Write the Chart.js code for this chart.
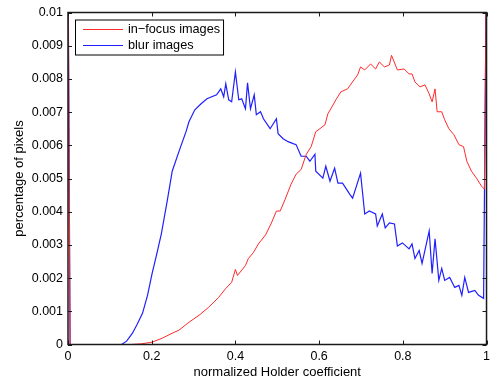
<!DOCTYPE html>
<html>
<head>
  <meta charset="UTF-8">
  <title>Holder coefficient histogram</title>
  <style>
    body { margin: 0; background: #fff; }
    #wrap { width: 495px; height: 385px; }
  </style>
  <script src="https://cdn.jsdelivr.net/npm/chart.js"></script>
</head>
<body>
  <div id="wrap"><canvas id="holderChart"></canvas></div>

  <script>
  // values (x = normalized Holder coefficient, y = fraction of pixels)
  const focusX = [0, 0.005, 0.150, 0.175, 0.201, 0.225, 0.254, 0.265, 0.289, 0.313, 0.336, 0.360, 0.377, 0.391, 0.400, 0.405,
    0.424, 0.431, 0.443, 0.455, 0.472, 0.486, 0.498, 0.507, 0.519, 0.533, 0.545, 0.557, 0.569, 0.581, 0.592,
    0.602, 0.614, 0.621, 0.628, 0.640, 0.652, 0.668, 0.685, 0.692, 0.699, 0.709, 0.723, 0.735, 0.744, 0.756,
    0.768, 0.773, 0.787, 0.803, 0.815, 0.822, 0.829, 0.841, 0.853, 0.863, 0.870, 0.877, 0.882, 0.893, 0.900,
    0.910, 0.922, 0.934, 0.945, 0.953, 0.964, 0.976, 0.988, 0.995, 1];
  const focusY = [0.012, 0, 0, 0.00002, 0.00007, 0.00019, 0.00037, 0.00043, 0.00067, 0.00088, 0.00112, 0.00142, 0.00169, 0.00187, 0.00226, 0.00208,
    0.00238, 0.00259, 0.00277, 0.00303, 0.00330, 0.00366, 0.00402, 0.00402, 0.00438, 0.00483, 0.00513, 0.00527, 0.00572, 0.00596, 0.00641,
    0.00650, 0.00662, 0.00695, 0.00710, 0.00737, 0.00761, 0.00770, 0.00800, 0.00812, 0.00836, 0.00827, 0.00845, 0.00830, 0.00851, 0.00836,
    0.00842, 0.00871, 0.00827, 0.00830, 0.00815, 0.00815, 0.00791, 0.00776, 0.00782, 0.00755, 0.00731, 0.00770, 0.00701, 0.00701, 0.00677,
    0.00650, 0.00632, 0.00602, 0.00596, 0.00552, 0.00522, 0.00501, 0.00477, 0.00468, 0.012];

  const blurX = [0, 0.005, 0.128, 0.140, 0.154, 0.165, 0.178, 0.190, 0.201, 0.212, 0.223, 0.237, 0.249, 0.265, 0.282, 0.289, 0.303, 0.318, 0.332,
    0.355, 0.365, 0.372, 0.377, 0.384, 0.391, 0.400, 0.408, 0.415, 0.424, 0.429, 0.436, 0.445, 0.450, 0.460,
    0.467, 0.483, 0.498, 0.502, 0.514, 0.526, 0.538, 0.545, 0.557, 0.569, 0.578, 0.590, 0.592, 0.609, 0.616,
    0.626, 0.637, 0.645, 0.656, 0.673, 0.680, 0.699, 0.709, 0.720, 0.735, 0.739, 0.751, 0.758, 0.768, 0.780,
    0.787, 0.799, 0.815, 0.822, 0.829, 0.839, 0.846, 0.863, 0.870, 0.877, 0.886, 0.893, 0.900, 0.912, 0.924,
    0.934, 0.941, 0.948, 0.957, 0.972, 0.981, 0.993, 1];
  const blurY = [0.012, 0, 0, 0.00010, 0.00034, 0.00060, 0.00094, 0.00148, 0.00214, 0.00272, 0.00333, 0.00432, 0.00522, 0.00581, 0.00641, 0.00671, 0.00707, 0.00725, 0.00740,
    0.00752, 0.00770, 0.00746, 0.00785, 0.00737, 0.00731, 0.00821, 0.00737, 0.00740, 0.00710, 0.00788, 0.00710, 0.00752, 0.00692, 0.00701,
    0.00680, 0.00650, 0.00680, 0.00635, 0.00620, 0.00611, 0.00605, 0.00602, 0.00567, 0.00567, 0.00552, 0.00573, 0.00522, 0.00501, 0.00537,
    0.00492, 0.00531, 0.00486, 0.00486, 0.00453, 0.00441, 0.00516, 0.00393, 0.00402, 0.00393, 0.00357, 0.00393, 0.00351, 0.00366, 0.00363,
    0.00297, 0.00306, 0.00288, 0.00303, 0.00259, 0.00283, 0.00244, 0.00342, 0.00214, 0.00318, 0.00193, 0.00229, 0.00193, 0.00202, 0.00172,
    0.00178, 0.00148, 0.00202, 0.00157, 0.00163, 0.00148, 0.00139, 0.012];

  const xTicks = [0, 0.2, 0.4, 0.6, 0.8, 1];
  const yTicks = [0, 0.001, 0.002, 0.003, 0.004, 0.005, 0.006, 0.007, 0.008, 0.009, 0.01];
  const seriesNames = ["in\u2212focus images", "blur images"];

  const FONT = "'Liberation Sans', Arial, sans-serif";

  function pairs(xs, ys) {
    return xs.map((x, i) => ({ x: x, y: ys[i] }));
  }
  function fmt(v) {
    return String(Number(v.toFixed(3)));
  }

  // axes box, inward ticks on all four sides, and the boxed legend
  const matlabAxes = {
    id: "matlabAxes",
    afterDraw(chart) {
      const ctx = chart.ctx;
      const a = chart.chartArea;
      const xs = chart.scales.x, ys = chart.scales.y;
      ctx.save();
      ctx.strokeStyle = "#1a1a1a";
      ctx.lineWidth = 1;
      ctx.beginPath();
      xTicks.forEach(v => {
        const px = Math.round(xs.getPixelForValue(v)) + 0.5;
        ctx.moveTo(px, a.bottom); ctx.lineTo(px, a.bottom - 4);
        ctx.moveTo(px, a.top); ctx.lineTo(px, a.top + 4);
      });
      yTicks.forEach(v => {
        const py = Math.round(ys.getPixelForValue(v)) + 0.5;
        ctx.moveTo(a.left, py); ctx.lineTo(a.left + 4, py);
        ctx.moveTo(a.right, py); ctx.lineTo(a.right - 4, py);
      });
      ctx.stroke();
      ctx.lineWidth = 1.5;
      ctx.strokeRect(a.left, a.top, a.right - a.left, a.bottom - a.top);

      // legend
      ctx.font = "12.7px " + FONT;
      const sets = chart.data.datasets;
      let tw = 0;
      sets.forEach(d => { tw = Math.max(tw, ctx.measureText(d.label).width); });
      const bx = a.left + 7, by = a.top + 7;
      const bw = 8 + 40 + 5 + tw + 3, bh = 35;
      ctx.fillStyle = "#fff";
      ctx.fillRect(bx, by, bw, bh);
      ctx.lineWidth = 1;
      ctx.strokeStyle = "#000";
      ctx.strokeRect(bx + 0.5, by + 0.5, bw, bh);
      ctx.textBaseline = "middle";
      sets.forEach((d, i) => {
        const ly = by + 10 + i * 16;
        ctx.strokeStyle = d.borderColor;
        ctx.lineWidth = d.borderWidth;
        ctx.beginPath();
        ctx.moveTo(bx + 8, ly); ctx.lineTo(bx + 48, ly);
        ctx.stroke();
        ctx.fillStyle = "#000";
        ctx.fillText(d.label, bx + 53, ly);
      });
      ctx.restore();
    }
  };

  new Chart(document.getElementById("holderChart"), {
    type: "line",
    data: {
      datasets: [{
        label: seriesNames[0],
        data: pairs(focusX, focusY),
        borderColor: "#ff2a2a",
        borderWidth: 1,
        pointRadius: 0,
        tension: 0,
        fill: false
      }, {
        label: seriesNames[1],
        data: pairs(blurX, blurY),
        borderColor: "#1f1fff",
        borderWidth: 1.2,
        pointRadius: 0,
        tension: 0,
        fill: false
      }]
    },
    options: {
      responsive: true,
      maintainAspectRatio: false,
      animation: false,
      layout: { padding: { top: 10, right: 5, left: 0, bottom: 0 } },
      plugins: {
        legend: { display: false },
        tooltip: { enabled: false }
      },
      scales: {
        x: {
          type: "linear",
          min: 0,
          max: 1,
          afterFit: s => { s.height = 40.5; },
          afterBuildTicks: s => { s.ticks = xTicks.map(v => ({ value: v })); },
          grid: { display: false, drawTicks: false },
          border: { display: false },
          ticks: {
            padding: 5,
            color: "#000",
            font: { family: FONT, size: 12.5 },
            maxRotation: 0,
            callback: v => fmt(v)
          },
          title: {
            display: true,
            text: "normalized Holder coefficient",
            color: "#000",
            font: { family: FONT, size: 13 },
            padding: { top: 0, bottom: 5 }
          }
        },
        y: {
          min: 0,
          max: 0.01,
          afterFit: s => { s.width = 68; },
          afterBuildTicks: s => { s.ticks = yTicks.map(v => ({ value: v })); },
          grid: { display: false, drawTicks: false },
          border: { display: false },
          ticks: {
            padding: 5,
            color: "#000",
            font: { family: FONT, size: 12.5 },
            callback: v => fmt(v)
          },
          title: {
            display: true,
            text: "percentage of pixels",
            color: "#000",
            font: { family: FONT, size: 13 },
            padding: { top: 12, bottom: 0 }
          }
        }
      }
    },
    plugins: [matlabAxes]
  });
  </script>
</body>
</html>
